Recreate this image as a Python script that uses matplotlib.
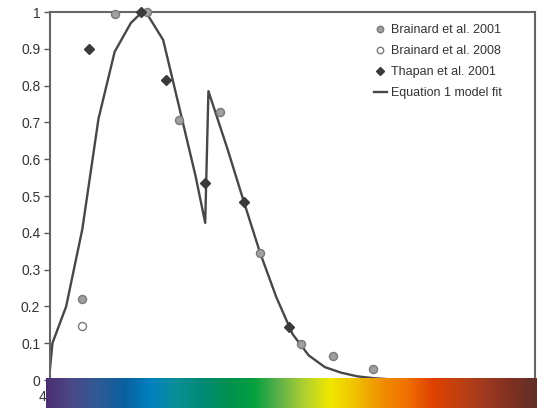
import numpy as np
import matplotlib
matplotlib.use('Agg')
import matplotlib.pyplot as plt
from matplotlib.colors import LinearSegmentedColormap

plt.rcParams['font.family'] = ['Liberation Sans', 'DejaVu Sans']

# Data (wavelength nm, relative sensitivity)
brainard2001_nm = [420, 440, 460, 480, 505, 530, 555, 575, 600]
brainard2001_val = [0.22, 0.995, 1.0, 0.706, 0.728, 0.345, 0.097, 0.066, 0.031]

brainard2008_nm = [420]
brainard2008_val = [0.146]

thapan_nm = [424, 456, 472, 496, 520, 548]
thapan_val = [0.90, 1.0, 0.815, 0.536, 0.483, 0.145]

model_nm = [400, 401.5, 410, 420, 430, 440, 450, 457, 460, 470, 480, 490, 496,
            498, 510, 520, 530, 540, 550, 560, 570, 580, 590, 600, 610, 620, 700]
model_val = [0.03, 0.1, 0.2, 0.41, 0.71, 0.892, 0.97, 1.0, 0.995, 0.924, 0.74, 0.555, 0.427,
             0.785, 0.625, 0.483, 0.345, 0.225, 0.125, 0.067, 0.035, 0.02, 0.01, 0.005, 0.002, 0.0, 0.0]

y_ticks = [0, 0.1, 0.2, 0.3, 0.4, 0.5, 0.6, 0.7, 0.8, 0.9, 1]
y_labels = ['0', '0.1', '0.2', '0.3', '0.4', '0.5', '0.6', '0.7', '0.8', '0.9', '1']
x_ticks = [400, 450, 500, 550, 600, 650]

# spectrum strip colours, left to right
spectrum_colors = ['#4b2e72', '#4a4a88', '#2e5a96', '#0a5f9e', '#0080c0', '#0a8f98',
                   '#008a78', '#009050', '#00a040', '#5cb04a', '#b0d030', '#f0e800',
                   '#f0c000', '#f09000', '#f07000', '#e04000', '#c04010', '#a03a20',
                   '#803020', '#603028']

fig = plt.figure(figsize=(5.37, 4.08), dpi=100)
ax = fig.add_axes([50 / 537, 28 / 408, 485 / 537, 368 / 408])

ax.plot(model_nm, model_val, color='#474747', lw=1.7, label='Equation 1 model fit', zorder=2)
ax.plot(brainard2001_nm, brainard2001_val, 'o', ms=5.8, mfc='#a0a0a0', mec='#7a7a7a', mew=1,
        label='Brainard et al. 2001', clip_on=False, zorder=3)
ax.plot(brainard2008_nm, brainard2008_val, 'o', ms=5.8, mfc='white', mec='#7a7a7a', mew=1,
        label='Brainard et al. 2008', clip_on=False, zorder=3)
ax.plot(thapan_nm, thapan_val, 'D', ms=5, mfc='#3a3a3a', mec='#3a3a3a',
        label='Thapan et al. 2001', clip_on=False, zorder=3)

ax.set_xlim(400, 700)
ax.set_ylim(0, 1)
ax.set_yticks(y_ticks)
ax.set_yticklabels(y_labels)
ax.set_xticks(x_ticks)
ax.tick_params(colors='#555555', labelcolor='#333333', labelsize=10, length=4, width=1, pad=3)

for s in ['left', 'top', 'right', 'bottom']:
    ax.spines[s].set_color('#666666')
    ax.spines[s].set_linewidth(1.5)

handles, labels = ax.get_legend_handles_labels()
order = [1, 2, 3, 0]
ax.legend([handles[i] for i in order], [labels[i] for i in order], loc='upper right',
          bbox_to_anchor=(0.955, 0.998), frameon=False, fontsize=9, handlelength=1.0,
          handletextpad=0.35, labelspacing=0.72, markerscale=0.8, labelcolor='#333333')

# spectrum strip over the x axis
bar_ax = fig.add_axes([46 / 537, 0, 491 / 537, 30 / 408])
cmap = LinearSegmentedColormap.from_list('spectrum', spectrum_colors)
bar_ax.imshow(np.linspace(0, 1, 512).reshape(1, -1), aspect='auto', cmap=cmap)
bar_ax.axis('off')

fig.savefig('out.png', dpi=100)
